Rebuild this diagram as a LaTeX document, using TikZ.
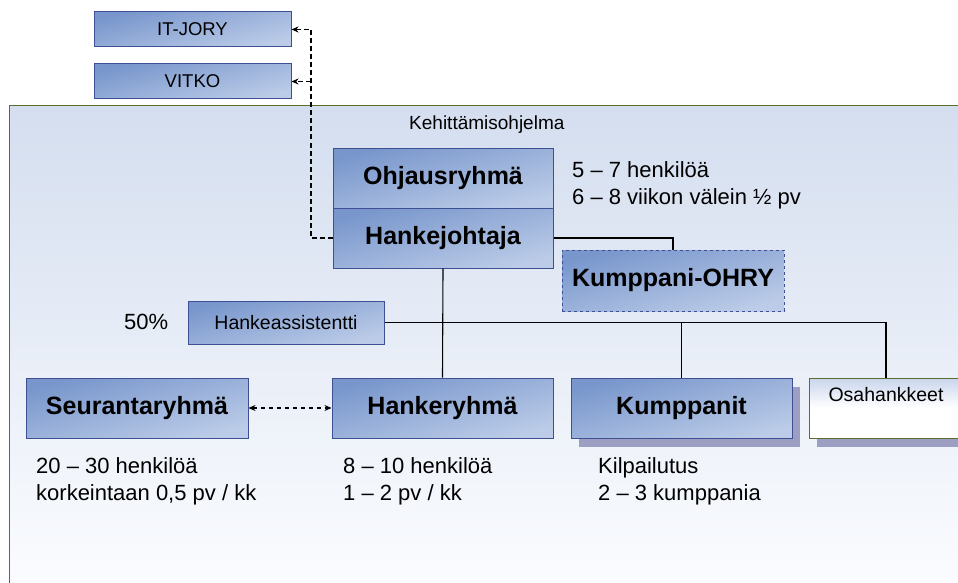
\documentclass[tikz,border=0pt]{standalone}
\usepackage{fontspec}
\setmainfont{Liberation Sans}
\usetikzlibrary{arrows.meta,shadows}
\definecolor{boxA}{HTML}{7896CC}
\definecolor{boxB}{HTML}{BCCCE8}
\definecolor{boxline}{HTML}{3F4F93}
\definecolor{contA}{HTML}{D4DEEF}
\definecolor{contB}{HTML}{FCFDFF}
\definecolor{olivec}{HTML}{5B6E2F}
\definecolor{shadowc}{HTML}{9C9FC1}
\definecolor{osaA}{HTML}{C9D5EC}
\begin{document}
\begin{tikzpicture}[x=1pt,y=-1pt,
  box/.style={draw=boxline, line width=1pt, top color=boxA, bottom color=boxB, shading angle=15, inner sep=0pt, text=black},
  bigtxt/.style={font=\fontsize{25}{30}\selectfont\bfseries},
  smalltxt/.style={font=\fontsize{18.5}{22}\selectfont},
  bodytxt/.style={font=\fontsize{22}{26}\selectfont, inner sep=0pt, anchor=base west},
  conn/.style={line width=1.1pt, black},
  dashconn/.style={line width=1.1pt, black, dash pattern=on 5pt off 3pt},
  dotconn/.style={line width=1.1pt, black, dash pattern=on 4pt off 4pt},
  tip/.style={-{Stealth[length=7pt,width=6pt]}},
  shad/.style={drop shadow={shadow xshift=8pt, shadow yshift=-9pt, fill=shadowc, opacity=1}}
]
\useasboundingbox (0,0) rectangle (958,583);
\clip (0,0) rectangle (958,583);
\fill[white] (0,0) rectangle (958,583);
% container
\shade[top color=contA, bottom color=contB] (9,106) rectangle (975,600);
\draw[olivec, line width=1pt] (9,600) -- (9,106) -- (975,106);
\node[font=\fontsize{19}{22}\selectfont, anchor=west, inner sep=0pt] (keh) at (409,125) {Kehittämisohjelma};

% top boxes
\node[box, smalltxt, minimum width=197pt, minimum height=35pt] (itjory) at (192.5,29.5) {IT-JORY};
\node[box, smalltxt, minimum width=197pt, minimum height=35pt] (vitko) at (192.5,81.5) {VITKO};

% steering
\node[box, bigtxt, minimum width=220pt, minimum height=60pt] (ohj) at (443,178) {Ohjausryhmä};
\node[box, bigtxt, minimum width=220pt, minimum height=60pt] (hj) at (443,238) {Hankejohtaja};
\node[box, bigtxt, dashed, minimum width=222pt, minimum height=61pt] (kohry) at (673,280.5) {Kumppani-OHRY};

\node[bodytxt] (t1) at (572,177) {5 – 7 henkilöä};
\node[bodytxt] (t2) at (572,204) {6 – 8 viikon välein ½ pv};

% assistant
\node[bodytxt] (p50) at (124,329.5) {50\%};
\node[box, font=\fontsize{19.5}{23}\selectfont, minimum width=196pt, minimum height=43pt] (ha) at (286,322.5) {Hankeassistentti};

% bottom row
\node[box, bigtxt, minimum width=222pt, minimum height=60pt] (seur) at (137,408) {Seurantaryhmä};
\node[box, bigtxt, minimum width=221pt, minimum height=60pt] (hr) at (442.5,408) {Hankeryhmä};
\node[box, bigtxt, shad, minimum width=221pt, minimum height=60pt] (kump) at (681.5,408) {Kumppanit};
\node[draw=olivec, line width=1pt, top color=osaA, bottom color=white, middle color=white, shad, minimum width=154pt, minimum height=60pt, inner sep=0pt] (osa) at (886,408) {};
\node[font=\fontsize{19.5}{23}\selectfont, inner sep=0pt] (osat) at (886,395) {Osahankkeet};

\node[bodytxt] (s1) at (36,473) {20 – 30 henkilöä};
\node[bodytxt] (s2) at (36,500) {korkeintaan 0,5 pv / kk};
\node[bodytxt] (h1) at (343,473) {8 – 10 henkilöä};
\node[bodytxt] (h2) at (343,500) {1 – 2 pv / kk};
\node[bodytxt] (k1) at (598,473) {Kilpailutus};
\node[bodytxt] (k2) at (598,500) {2 – 3 kumppania};

% connectors
\coordinate (bend) at (311,238);
\draw[dashconn, tip] (hj.west) -- (bend) |- (itjory.east);
\draw[dashconn, tip] (bend |- vitko.east) -- (vitko.east);
\draw[conn] (hj.east) -| (kohry.north);
\draw[conn] (hj.south) -- (hr.north);
\draw[conn] (ha.east) -| (osa.north);
\draw[conn] (kump.north) -- (kump.north |- ha.east);
\draw[dotconn, {Stealth[length=7pt,width=6pt]}-{Stealth[length=7pt,width=6pt]}] (seur.east) -- (hr.west);
\end{tikzpicture}
\end{document}
